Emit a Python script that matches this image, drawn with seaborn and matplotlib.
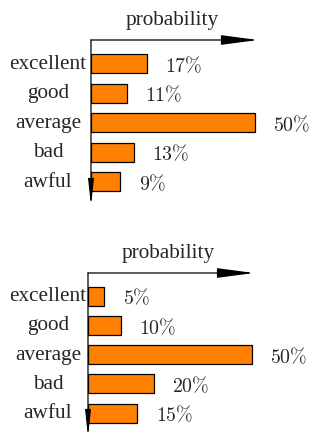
import matplotlib
matplotlib.use("Agg")
import matplotlib.pyplot as plt
import seaborn as sns
import pandas as pd

categories = ["excellent", "good", "average", "bad", "awful"]
values_top = [17, 11, 50, 13, 9]
values_bottom = [5, 10, 50, 20, 15]
title = "probability"

sns.set_theme(style="white")
plt.rcParams["font.family"] = ["Liberation Serif", "DejaVu Serif"]
plt.rcParams["mathtext.fontset"] = "cm"

W, H = 311, 439
fig = plt.figure(figsize=(W / 100, H / 100), dpi=100)
FS = 15.3
FSP = 14.3
ORANGE = "#FF8000"


def panel(left, right, top, bottom, xmax, values, title_x, title_y):
    ax = fig.add_axes([left / W, 1 - bottom / H, (right - left) / W, (bottom - top) / H])
    df = pd.DataFrame({"cat": categories, "val": values})
    sns.barplot(data=df, x="val", y="cat", orient="h", color=ORANGE, width=0.65,
                edgecolor="black", linewidth=0.9, saturation=1, ax=ax)
    ax.set_xlim(0, xmax)
    ax.set_ylim(4.82, -0.8)
    for s in ax.spines.values():
        s.set_visible(False)
    ax.set_xticks([])
    ax.set_yticks([])
    ax.set_xlabel("")
    ax.set_ylabel("")
    # arrows
    ax.annotate("", xy=(1.0, 1.0), xytext=(0, 1.0), xycoords="axes fraction",
                arrowprops=dict(arrowstyle="-|>,head_length=1.9,head_width=0.25",
                                color="black", lw=0.9, shrinkA=0, shrinkB=0))
    ax.annotate("", xy=(0, 0.0), xytext=(0, 1.0), xycoords="axes fraction",
                arrowprops=dict(arrowstyle="-|>,head_length=1.3,head_width=0.14",
                                color="black", lw=0.9, shrinkA=0, shrinkB=0))
    tr = matplotlib.transforms.blended_transform_factory(ax.transAxes, ax.transData)
    lab_x = -(left - 48) / (right - left)
    for i, (c, v) in enumerate(zip(categories, values)):
        ax.text(lab_x, i - 0.02, c, transform=tr, ha="center", va="center", fontsize=FS)
        ax.annotate(r"$%d\%%$" % v, xy=(v, i), xytext=(13.2, -1.5),
                    textcoords="offset points", ha="left", va="center", fontsize=FSP)
    fig.text(title_x / W, 1 - title_y / H, title, ha="center", va="center", fontsize=FS)
    return ax


panel(91, 258, 41, 207, 51, values_top, 172, 21)
panel(88, 254, 274, 438, 50.6, values_bottom, 168, 254)

fig.savefig("out.png", dpi=100)
